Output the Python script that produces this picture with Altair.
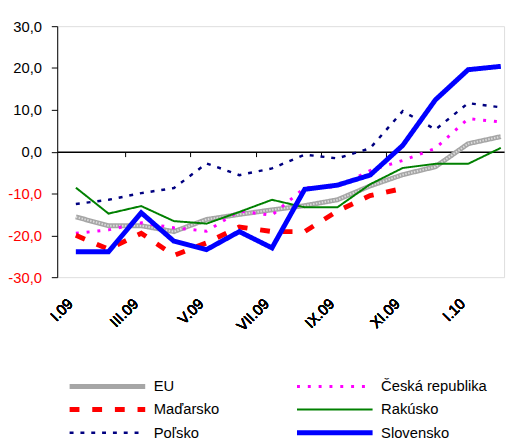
import altair as alt
import pandas as pd

months = ["I.09", "II.09", "III.09", "IV.09", "V.09", "VI.09", "VII.09",
          "VIII.09", "IX.09", "X.09", "XI.09", "XII.09", "I.10", "II.10"]
label_idx = [0, 2, 4, 6, 8, 10, 12]
boundary_idx = [1.5, 3.5, 5.5, 7.5, 9.5, 11.5]
y_ticks = [-30, -20, -10, 0, 10, 20, 30]

# drawing order (Excel series order)
series = ["EU", "Česká republika", "Maďarsko", "Rakúsko", "Poľsko", "Slovensko"]
eu = [-15.6, -17.7, -17.7, -19.1, -16.2, -15.0, -13.9, -12.9, -11.5, -8.2, -5.5, -3.6, 1.9, 3.6]
cz = [-19.5, -18.7, -17.0, -18.2, -19.0, -14.2, -15.2, -8.6, -8.4, -4.5, -2.1, 0.8, 7.9, 7.1]
hu = [-20.0, -23.3, -19.5, -24.8, -21.8, -18.0, -19.1, -19.1, -14.2, -10.5, -8.8, None, None, None]
at = [-8.6, -14.8, -13.0, -16.6, -17.2, -14.4, -11.5, -13.3, -13.3, -7.8, -3.9, -2.9, -2.9, 0.9]
pl = [-12.5, -11.5, -9.9, -8.7, -2.8, -5.6, -4.0, -0.7, -1.6, 0.8, 9.7, 5.3, 11.6, 10.6]
sk = [-23.9, -23.9, -14.6, -21.4, -23.4, -19.1, -23.0, -9.0, -8.0, -5.6, 1.5, 12.4, 19.6, 20.4]

# legend order (filled column by column)
legend_order = ["EU", "Maďarsko", "Poľsko", "Česká republika", "Rakúsko", "Slovensko"]
style = {
    "EU": ("#a6a6a6", [1, 0], 5),
    "Česká republika": ("#ff00ff", [3, 8], 3),
    "Maďarsko": ("#ff0000", [10, 13], 5),
    "Rakúsko": ("#008000", [1, 0], 2),
    "Poľsko": ("#000080", [4, 7], 2.5),
    "Slovensko": ("#0000ff", [1, 0], 5),
}
colors = [style[s][0] for s in legend_order]
dashes = [style[s][1] for s in legend_order]
widths = [style[s][2] for s in legend_order]

rows = []
for name, vals in zip(series, [eu, cz, hu, at, pl, sk]):
    for i, v in enumerate(vals):
        if v is not None:
            rows.append({"series": name, "idx": i, "value": v})
df = pd.DataFrame(rows)

FONT = "Liberation Sans"
month_arr = "[" + ",".join("'" + m + "'" for m in months) + "]"
x_scale = alt.Scale(domain=[-0.57, 13.1], nice=False, zero=False)

x_enc = alt.X("idx:Q", scale=x_scale,
              axis=alt.Axis(orient="bottom", values=label_idx, labelExpr=month_arr + "[datum.value]",
                            labelAngle=315, labelAlign="right", labelBaseline="top",
                            labelFont=FONT, labelFontSize=15, labelColor="black",
                            labelFontWeight="normal",
                            labelPadding=19, labelOffset=-11, ticks=False, domain=False,
                            grid=False, title=None))
y_enc = alt.Y("value:Q", scale=alt.Scale(domain=[-30, 30], nice=False),
              axis=alt.Axis(values=y_ticks, grid=False, title=None,
                            labelExpr="(datum.value < 0 ? '-' : '') + replace(format(abs(datum.value), '.1f'), '.', ',')",
                            labelColor=alt.expr("datum.value < 0 ? '#ff0000' : '#000000'"),
                            labelFont=FONT, labelFontSize=15, labelPadding=10,
                            tickSize=6, tickColor="black", domainColor="black"))

legend = alt.Legend(orient="none", legendX=10, legendY=355, columns=2, symbolType="stroke",
                    symbolSize=5900, clipHeight=22, columnPadding=76, rowPadding=1.5,
                    labelFont=FONT, labelFontSize=15, labelColor="black", labelOffset=6,
                    title=None)
color_enc = alt.Color("series:N", scale=alt.Scale(domain=legend_order, range=colors), legend=legend)
dash_enc = alt.StrokeDash("series:N", scale=alt.Scale(type="ordinal", domain=legend_order, range=dashes), legend=legend)
width_enc = alt.StrokeWidth("series:N", scale=alt.Scale(type="ordinal", domain=legend_order, range=widths), legend=legend)

layers = []
for name in series:
    layers.append(
        alt.Chart(df).transform_filter(alt.datum.series == name).mark_line(strokeCap="butt").encode(
            x=x_enc, y=y_enc, color=color_enc, strokeDash=dash_enc, strokeWidth=width_enc
        )
    )
    if name == "EU":
        layers.append(
            alt.Chart(df).transform_filter(alt.datum.series == name).mark_line(
                color="#dcdcdc", strokeWidth=2, strokeDash=[1.5, 1.5]).encode(x=x_enc, y=y_enc)
        )

zero_axis = alt.Chart(df).mark_point(opacity=0).encode(
    x=alt.X("idx:Q", scale=x_scale,
            axis=alt.Axis(orient="bottom", offset=-127.5, values=boundary_idx, labels=False,
                          tickSize=5, tickColor="black", domainColor="black", domainWidth=1.5,
                          grid=False, title=None)),
    y=y_enc,
)

chart = alt.layer(*layers, zero_axis).resolve_axis(x="independent").properties(
    width=454, height=255, autosize=alt.AutoSizeParams(type="none"),
    padding={"left": 50, "top": 15, "right": 5, "bottom": 166}
).configure_view(stroke=None).configure(background="white")

chart.save("out.html", embed_options={"renderer": "svg", "actions": False})
